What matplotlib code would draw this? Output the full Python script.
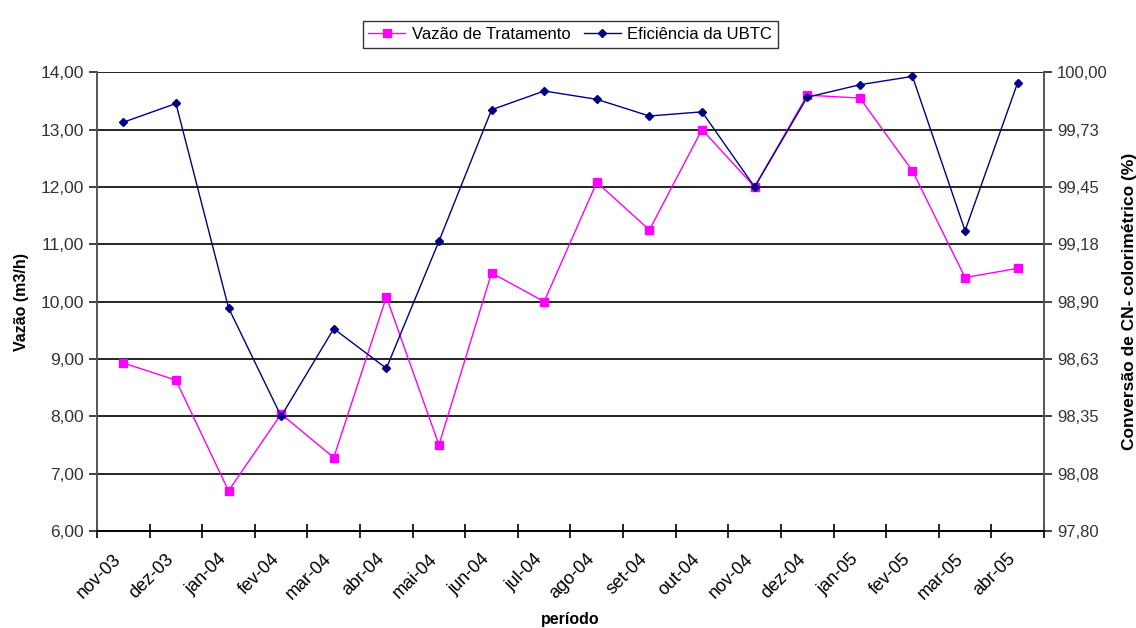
import numpy as np
import matplotlib
matplotlib.use("Agg")
import matplotlib.pyplot as plt
from matplotlib.ticker import FuncFormatter

plt.rcParams["font.family"] = ["Liberation Sans", "DejaVu Sans"]

periods = ["nov-03", "dez-03", "jan-04", "fev-04", "mar-04", "abr-04",
           "mai-04", "jun-04", "jul-04", "ago-04", "set-04", "out-04",
           "nov-04", "dez-04", "jan-05", "fev-05", "mar-05", "abr-05"]
vazao = [8.93, 8.63, 6.70, 8.04, 7.28, 10.08, 7.50, 10.50, 10.00, 12.08,
         11.25, 13.00, 12.00, 13.60, 13.55, 12.28, 10.42, 10.58]
eficiencia = [99.76, 99.85, 98.87, 98.35, 98.77, 98.58, 99.19, 99.82, 99.91,
              99.87, 99.79, 99.81, 99.45, 99.88, 99.94, 99.98, 99.24, 99.95]

# two decimals, comma separator, halves rounded up
comma = FuncFormatter(lambda v, _: f"{v + 1e-9:.2f}".replace(".", ","))

fig = plt.figure(figsize=(11.36, 6.28), dpi=100)
ax = fig.add_axes([0.0854, 0.1545, 0.8336, 0.7305])
ax2 = ax.twinx()

x = np.arange(len(periods))
l1, = ax.plot(x, vazao, color="#ff00ff", lw=1, marker="s", ms=6,
              label="Vazão de Tratamento")
l2, = ax2.plot(x, eficiencia, color="#000080", lw=1, marker="D", ms=4.5,
               label="Eficiência da UBTC")

ax.set_xlim(-0.5, len(periods) - 0.5)
ax.set_ylim(6, 14)
ax.set_yticks(np.arange(6, 15, 1))
ax.yaxis.set_major_formatter(comma)
ax2.set_ylim(97.8, 100.0)
ax2.set_yticks(np.linspace(97.8, 100.0, 9))
ax2.yaxis.set_major_formatter(comma)

ax.grid(axis="y", color="black", lw=1.2)
ax.set_axisbelow(True)

# rotated labels sit a little left of the category centre;
# the visible tick marks go on the category boundaries
ax.set_xticks(x - 0.2)
ax.set_xticklabels(periods, rotation=45, ha="right", va="top",
                   rotation_mode="anchor")
ax.set_xticks(np.arange(-0.5, len(periods)), minor=True)
ax.tick_params(axis="x", which="major", length=0, pad=14, labelsize=13)
ax.tick_params(axis="x", which="minor", length=10, direction="inout",
               width=1.2)
ax.tick_params(axis="y", length=6, width=1.2, labelsize=12.5, colors="#222",
               labelcolor="#333")
ax2.tick_params(axis="y", length=6, width=1.2, labelsize=12, colors="#222",
                labelcolor="#333")

for a in (ax, ax2):
    a.spines["top"].set_visible(False)
    a.spines["left"].set_color("#555")
    a.spines["right"].set_color("#555")
    a.spines["bottom"].set_color("black")
    a.spines["left"].set_linewidth(1.2)
    a.spines["right"].set_linewidth(1.2)
    a.spines["bottom"].set_linewidth(1.2)

ax.set_ylabel("Vazão (m3/h)", fontsize=11.5, fontweight="bold", labelpad=8)
ax.set_xlabel("período", fontsize=11.5, fontweight="bold", labelpad=7)
ax2.set_ylabel("Conversão de CN- colorimétrico (%)", fontsize=12.5,
               fontweight="bold", labelpad=10)

leg = fig.legend(handles=[l1, l2], loc="upper center",
                 bbox_to_anchor=(0.502, 0.98), ncol=2, fontsize=12,
                 frameon=True, fancybox=False, edgecolor="black",
                 handlelength=2.2, handletextpad=0.4, columnspacing=0.8,
                 borderpad=0.35)
leg.get_frame().set_linewidth(1)

fig.savefig("out.png", dpi=100, facecolor="white")
